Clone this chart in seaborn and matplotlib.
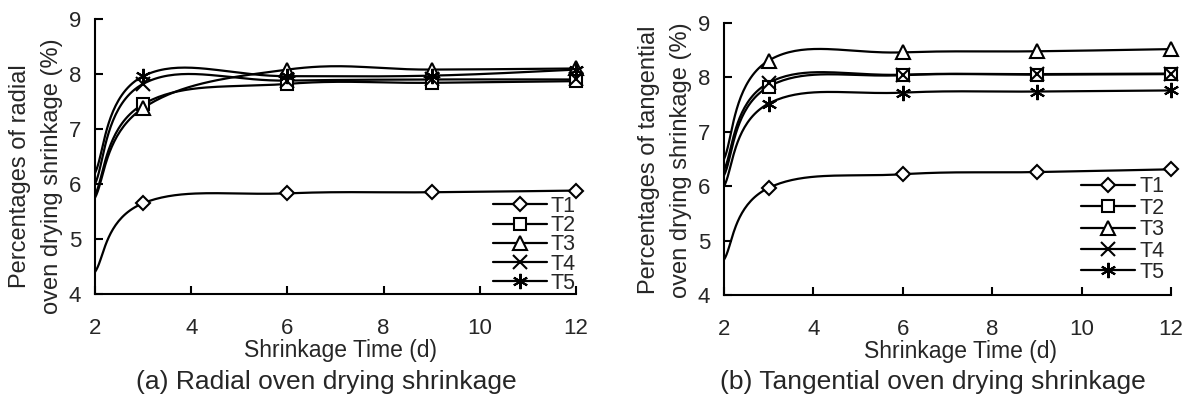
import numpy as np
import seaborn as sns
from matplotlib import pyplot as plt
from matplotlib.lines import Line2D

sns.set_style("ticks")
plt.rcParams['font.family'] = ['Liberation Sans', 'DejaVu Sans']

days = [2, 3, 6, 9, 12]
names = ["T1", "T2", "T3", "T4", "T5"]

# radial shrinkage (%)
radial_T1 = [4.4, 5.65, 5.83, 5.85, 5.88]
radial_T2 = [5.8, 7.45, 7.82, 7.84, 7.87]
radial_T3 = [5.75, 7.38, 8.08, 8.08, 8.10]
radial_T4 = [6.0, 7.82, 7.88, 7.90, 7.90]
radial_T5 = [6.2, 7.96, 7.96, 7.97, 8.08]

# tangential shrinkage (%)
tang_T1 = [4.65, 5.97, 6.22, 6.26, 6.31]
tang_T2 = [6.2, 7.83, 8.04, 8.05, 8.06]
tang_T3 = [6.5, 8.31, 8.46, 8.48, 8.52]
tang_T4 = [6.3, 7.90, 8.05, 8.06, 8.07]
tang_T5 = [6.0, 7.52, 7.72, 7.74, 7.76]

markers = ["D", "s", "^", "x", (6, 2, 0)]
msizes = [7, 8.5, 10, 10, 11]


def smooth(xs, ys, n=40, f=0.2):
    # excel-like smoothed line: cubic bezier through the points
    P = np.column_stack([xs, ys]).astype(float)
    k = len(P)
    out = []
    for i in range(k - 1):
        p0 = P[max(i - 1, 0)]
        p1, p2 = P[i], P[i + 1]
        p3 = P[min(i + 2, k - 1)]
        c1 = p1 + (p2 - p0) * f
        c2 = p2 - (p3 - p1) * f
        t = np.linspace(0, 1, n)[:, None]
        seg = (1 - t) ** 3 * p1 + 3 * (1 - t) ** 2 * t * c1 + 3 * (1 - t) * t ** 2 * c2 + t ** 3 * p2
        out.append(seg if i == 0 else seg[1:])
    out = np.vstack(out)
    return out[:, 0], out[:, 1]


def panel(ax, series, legend_anchor, labelspacing, xlabel_x):
    for vals, m, ms in zip(series, markers, msizes):
        sx, sy = smooth(days, vals)
        sns.lineplot(x=sx, y=sy, ax=ax, color="black", lw=1.6, sort=False, estimator=None)
        ax.plot(days[1:], vals[1:], ls="none", marker=m, ms=ms, mfc="white", mec="black",
                mew=1.5, clip_on=False, zorder=3)
    ax.set_xlim(2, 12)
    ax.set_ylim(4, 9)
    ax.set_xticks([2, 4, 6, 8, 10, 12])
    ax.set_yticks([4, 5, 6, 7, 8, 9])
    ax.tick_params(direction="in", length=5.5, width=1.5, labelsize=16, color="black")
    ax.tick_params(axis="x", pad=17)
    ax.tick_params(axis="y", pad=10)
    for s in ["left", "bottom"]:
        ax.spines[s].set_linewidth(1.5)
        ax.spines[s].set_color("black")
    sns.despine(ax=ax)
    ax.set_xlabel("Shrinkage Time (d)", fontsize=16.5, labelpad=0)
    ax.xaxis.label.set_x(xlabel_x)
    ax.set_ylabel("")
    handles = [Line2D([], [], color="black", lw=1.6, marker=m, ms=ms, mfc="white",
                      mec="black", mew=1.5) for m, ms in zip(markers, msizes)]
    ax.legend(handles, names, loc="lower right", bbox_to_anchor=legend_anchor,
              frameon=False, fontsize=15.5, handlelength=2.5, handletextpad=0.2,
              labelspacing=labelspacing, borderpad=0, borderaxespad=0)


fig = plt.figure(figsize=(11.86, 4.04), dpi=100)
ax1 = fig.add_axes([0.0801, 0.2723, 0.4056, 0.6807])
ax2 = fig.add_axes([0.6105, 0.2698, 0.3769, 0.6733])

panel(ax1, [radial_T1, radial_T2, radial_T3, radial_T4, radial_T5], (1.0, 0.0), -0.08, 0.51)
panel(ax2, [tang_T1, tang_T2, tang_T3, tang_T4, tang_T5], (0.985, 0.044), 0.02, 0.53)

fig.text(36 / 1186, 1 - 176 / 404, "Percentages of radial\noven drying shrinkage (%)",
         rotation=90, ha="center", va="center", fontsize=17, linespacing=1.55)
fig.text(665 / 1186, 1 - 160 / 404, "Percentages of tangential\noven drying shrinkage (%)",
         rotation=90, ha="center", va="center", fontsize=17, linespacing=1.55)

fig.text(326 / 1186, 1 - 382 / 404, "(a) Radial oven drying shrinkage",
         ha="center", va="center", fontsize=19)
fig.text(933 / 1186, 1 - 382 / 404, "(b) Tangential oven drying shrinkage",
         ha="center", va="center", fontsize=19)

fig.savefig("out.png", dpi=100)
